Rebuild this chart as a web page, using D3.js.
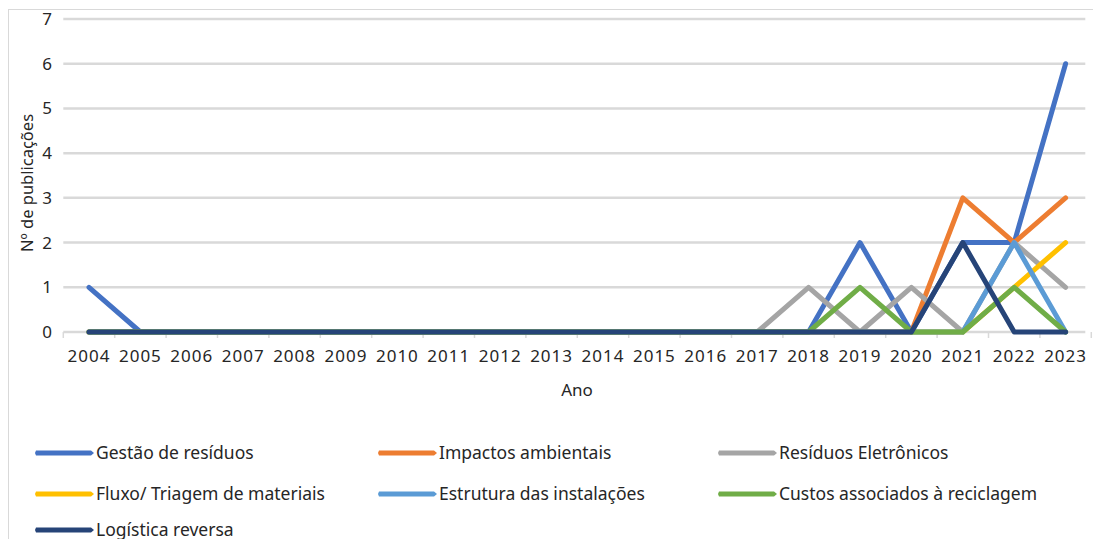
<!DOCTYPE html>
<html><head><meta charset="utf-8">
<script src="https://cdn.jsdelivr.net/npm/d3@7"></script>
<style>body{margin:0;background:#fff;}svg{display:block;font-family:"Noto Sans",sans-serif;}</style>
</head><body>
<svg id="c" width="1093" height="539"></svg>
<script>
const years = ["2004","2005","2006","2007","2008","2009","2010","2011","2012","2013","2014","2015","2016","2017","2018","2019","2020","2021","2022","2023"];
const yTicks = [0,1,2,3,4,5,6,7];
const seriesNames = ["Gestão de resíduos","Impactos ambientais","Resíduos Eletrônicos","Fluxo/ Triagem de materiais","Estrutura das instalações","Custos associados à reciclagem","Logística reversa"];
const seriesColors = ["#4472C4","#ED7D31","#A5A5A5","#FFC000","#5B9BD5","#70AD47","#264478"];
const gestao    = [1,0,0,0,0,0,0,0,0,0,0,0,0,0,0,2,0,2,2,6];
const impactos  = [0,0,0,0,0,0,0,0,0,0,0,0,0,0,0,0,0,3,2,3];
const eletron   = [0,0,0,0,0,0,0,0,0,0,0,0,0,0,1,0,1,0,2,1];
const fluxo     = [0,0,0,0,0,0,0,0,0,0,0,0,0,0,0,0,0,0,1,2];
const estrutura = [0,0,0,0,0,0,0,0,0,0,0,0,0,0,0,0,0,0,2,0];
const custos    = [0,0,0,0,0,0,0,0,0,0,0,0,0,0,0,1,0,0,1,0];
const logistica = [0,0,0,0,0,0,0,0,0,0,0,0,0,0,0,0,0,2,0,0];
const seriesValues = [gestao,impactos,eletron,fluxo,estrutura,custos,logistica];

const svg = d3.select("#c");
svg.append("rect").attr("x",8.5).attr("y",9.5).attr("width",1100).attr("height",560)
  .attr("fill","none").attr("stroke","#d9d9d9").attr("stroke-width",1);

const L=63.3, R=1091.3, T=19, B=332;
const x = d3.scaleBand().domain(years).range([L,R]);
const y = d3.scaleLinear().domain([0,7]).range([B,T]);

svg.append("g").selectAll("line").data(yTicks).join("line")
  .attr("x1",L).attr("x2",R-6).attr("y1",d=>y(d)).attr("y2",d=>y(d))
  .attr("stroke","#d9d9d9").attr("stroke-width",2.5);

svg.append("g").selectAll("line").data(d3.range(years.length+1)).join("line")
  .attr("x1",i=>L+i*x.step()).attr("x2",i=>L+i*x.step())
  .attr("y1",B).attr("y2",B+6).attr("stroke","#d9d9d9").attr("stroke-width",1.5);

svg.append("g").selectAll("text").data(yTicks).join("text")
  .attr("x",52).attr("y",d=>y(d)).attr("dy","0.35em").attr("text-anchor","end")
  .attr("font-size",17).attr("fill","#262626").text(d=>d);
svg.append("g").selectAll("text").data(years).join("text")
  .attr("x",d=>x(d)+x.bandwidth()/2).attr("y",362).attr("text-anchor","middle")
  .attr("font-size",17).attr("letter-spacing",1).attr("fill","#262626").text(d=>d);

svg.append("text").attr("x",577).attr("y",396).attr("text-anchor","middle")
  .attr("font-size",17).attr("fill","#262626").text("Ano");
svg.append("text").attr("transform","translate(33,183) rotate(-90)").attr("text-anchor","middle")
  .attr("font-size",16.5).attr("fill","#262626").text("Nº de publicações");

const line = d3.line().x((d,i)=>x(years[i])+x.bandwidth()/2).y(d=>y(d));
svg.append("g").selectAll("path").data(seriesValues).join("path")
  .attr("d",d=>line(d)).attr("fill","none")
  .attr("stroke",(d,i)=>seriesColors[i]).attr("stroke-width",5)
  .attr("stroke-linejoin","round").attr("stroke-linecap","round");

const colX=[35,378,718], rowY=[453,494,530];
const lg = svg.append("g").selectAll("g").data(seriesNames).join("g")
  .attr("transform",(d,i)=>`translate(${colX[i%3]},${rowY[Math.floor(i/3)]})`);
lg.append("path").attr("d","M1,-2.5L56,-2.5L59,0L56,2.5L1,2.5L0,0Z")
  .attr("fill",(d,i)=>seriesColors[i]);
lg.append("text").attr("x",61).attr("y",0).attr("dy","0.35em").attr("font-size",17.5)
  .attr("fill","#262626").text(d=>d);
</script>
</body></html>
